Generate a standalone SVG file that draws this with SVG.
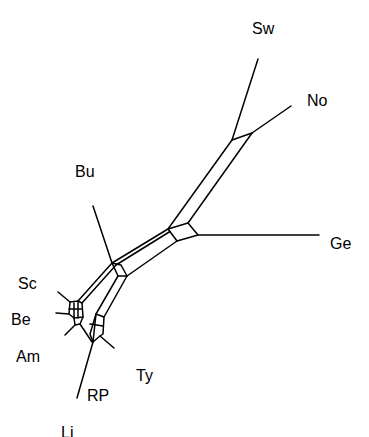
<svg xmlns="http://www.w3.org/2000/svg" width="369" height="437" viewBox="0 0 369 437">
<style>
.e{stroke:#000;stroke-width:1.5;fill:none;stroke-linecap:round;stroke-linejoin:round}
.t{font-family:"Liberation Sans",Arial,sans-serif;font-size:16px;fill:#000}
</style>
<rect width="369" height="437" fill="#fff"/>
<g id="connectors" class="e">
<path d="M258,59 L232,140"/>
<path d="M291,106 L252,133"/>
<path d="M232,140 L252,133"/>
<path d="M232,140 L168,229"/>
<path d="M252,133 L188,223"/>
<path d="M168,229 L188,223 L198,235 L177,241 Z"/>
<path d="M198,235 L319,235"/>
<path d="M168,229 L112,263"/>
<path d="M170,231.5 L116,265"/>
<path d="M177,241 L127,276"/>
<path d="M93,206 L112,263"/>
<path d="M112,263 L121,265 L127,276 L118,276 Z"/>
<path d="M112,263 L78,301"/>
<path d="M116,265 L82,303"/>
<path d="M118,276 L96,314"/>
<path d="M127,276 L104,317"/>
<path d="M58,292 L70,302"/>
<path d="M56,313 L69,314"/>
<path d="M65,335 L75,325"/>
<path d="M70,302 L78,301 L82,303 L83,317 L74,318 L69,314 Z"/>
<path d="M74,303 L74,318"/>
<path d="M78,301 L78,318"/>
<path d="M69,309 L82,309"/>
<path d="M74,318 L75,325 L80,324 L83,317"/>
<path d="M80,324 L92,342"/>
<path d="M96,314 L104,317 L103,334 L100,336 L93,342 L90,334 Z"/>
<path d="M90,324 L103,326"/>
<path d="M96,314 L93,342"/>
<path d="M100,336 L114,348"/>
<path d="M93,342 L77,398"/>
</g>
<g id="labels">
<text id="n-Sw" class="t" x="252" y="34">Sw</text>
<text id="n-No" class="t" x="307" y="106">No</text>
<text id="n-Bu" class="t" x="75" y="177">Bu</text>
<text id="n-Ge" class="t" x="330" y="249">Ge</text>
<text id="n-Sc" class="t" x="18" y="289">Sc</text>
<text id="n-Be" class="t" x="11" y="325">Be</text>
<text id="n-Am" class="t" x="16" y="362">Am</text>
<text id="n-Ty" class="t" x="136" y="381">Ty</text>
<text id="n-RP" class="t" x="87" y="401">RP</text>
<text id="n-Li" class="t" x="61" y="438">Li</text>
</g>
</svg>
